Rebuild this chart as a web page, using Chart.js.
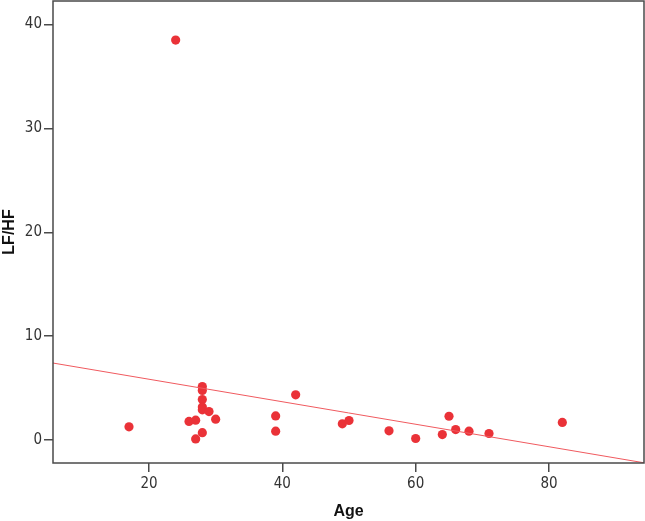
<!DOCTYPE html>
<html>
<head>
<meta charset="utf-8">
<script src="https://cdn.jsdelivr.net/npm/chart.js@4"></script>
<style>
  html, body { margin: 0; padding: 0; background: #fff; }
  #wrap { width: 645px; height: 521px; }
</style>
</head>
<body>
<div id="wrap"><canvas id="c" width="645" height="521"></canvas></div>
<script>
// values
let ages  = [24, 17, 26, 27, 27, 28, 28, 28, 28, 28, 28, 29, 30, 39, 39, 42, 49, 50, 56, 60, 64, 65, 66, 68, 71, 82]
let lfhf  = [38.5, 1.28, 1.8, 1.92, 0.12, 0.72, 5.15, 4.78, 3.9, 3.18, 2.92, 2.75, 2.02, 2.33, 0.86, 4.36, 1.57, 1.89, 0.9, 0.16, 0.54, 2.3, 1.02, 0.86, 0.64, 1.7]

// fit line end points (at the plot edges)
let fitX = [5.6, 94.25]
let fitY = [7.42, -2.18]

let xTicks = [20, 40, 60, 80]
let yTicks = [0, 10, 20, 30, 40]

let tickFont = { family: "'Liberation Sans Narrow', 'DejaVu Sans Condensed', sans-serif", size: 15 }
let titleFont = { family: "'Liberation Sans Narrow', 'Liberation Sans', sans-serif", size: 16, weight: 'bold' }

// box around the plot area
let frame = {
    id: 'frame',
    afterDraw(chart) {
        let a = chart.chartArea
        let ctx = chart.ctx
        ctx.save()
        ctx.strokeStyle = '#4a4a4a'
        ctx.lineWidth = 1.5
        ctx.strokeRect(a.left, a.top, a.right - a.left, a.bottom - a.top)
        ctx.restore()
    }
}

let chart = new Chart(document.getElementById('c'), {
    type: 'scatter',
    data: {
        datasets: [{
            type: 'line',
            data: fitX.map((x, i) => ({ x: x, y: fitY[i] })),
            borderColor: 'rgb(240, 90, 95)',
            borderWidth: 1,
            pointRadius: 0,
            fill: false
        }, {
            data: ages.map((a, i) => ({ x: a, y: lfhf[i] })),
            backgroundColor: 'rgb(234, 50, 56)',
            borderColor: 'rgb(234, 50, 56)',
            borderWidth: 0,
            pointRadius: 4.6
        }]
    },
    options: {
        responsive: false,
        animation: false,
        layout: { autoPadding: false, padding: { top: 1, right: 1, left: 0, bottom: 0 } },
        plugins: { legend: { display: false }, tooltip: { enabled: false } },
        scales: {
            x: {
                type: 'linear',
                min: 5.6,
                max: 94.25,
                afterBuildTicks: s => { s.ticks = xTicks.map(v => ({ value: v })) },
                afterFit: s => { s.height = 58; s.paddingLeft = 0; s.paddingRight = 0 },
                grid: { drawOnChartArea: false, drawTicks: true, tickLength: 9, color: '#4a4a4a', lineWidth: 1.5 },
                border: { display: false },
                ticks: { color: '#333', font: tickFont, padding: 3, maxRotation: 0 },
                title: { display: true, text: 'Age', color: '#111', font: titleFont, padding: { top: 0, bottom: 0 } }
            },
            y: {
                type: 'linear',
                min: -2.2,
                max: 42.26,
                afterBuildTicks: s => { s.ticks = yTicks.map(v => ({ value: v })) },
                afterFit: s => { s.width = 53; s.paddingTop = 0; s.paddingBottom = 0 },
                grid: { drawOnChartArea: false, drawTicks: true, tickLength: 9, color: '#4a4a4a', lineWidth: 1.5 },
                border: { display: false },
                ticks: { color: '#333', font: tickFont, padding: 2 },
                title: { display: true, text: 'LF/HF', color: '#111', font: titleFont, padding: { top: 0, bottom: 0 } }
            }
        }
    },
    plugins: [frame]
})
</script>
</body>
</html>
